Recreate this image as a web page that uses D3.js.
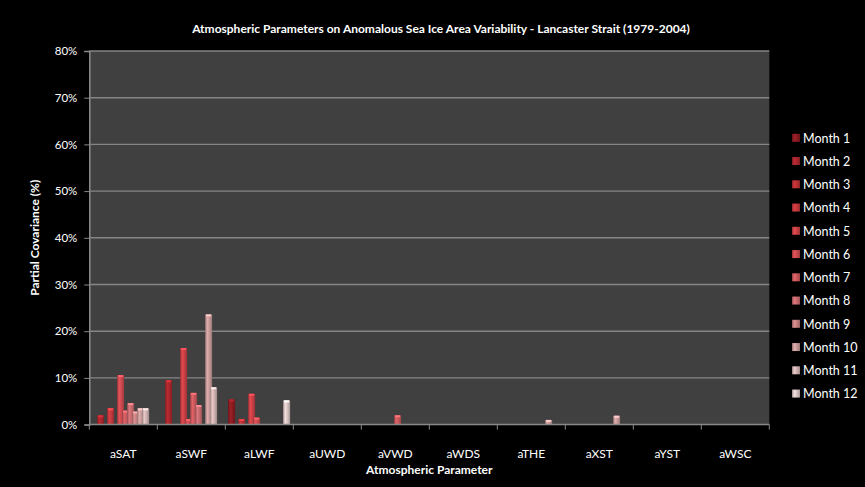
<!DOCTYPE html>
<html><head><meta charset="utf-8">
<script src="https://cdn.jsdelivr.net/npm/d3@7"></script>
<style>body{margin:0;background:#000}svg{display:block}</style>
</head><body>
<script>
const categories = ["aSAT","aSWF","aLWF","aUWD","aVWD","aWDS","aTHE","aXST","aYST","aWSC"];
const months = ["Month 1","Month 2","Month 3","Month 4","Month 5","Month 6","Month 7","Month 8","Month 9","Month 10","Month 11","Month 12"];
const m1  = [0,   0,   5.4, 0, 0,   0, 0,   0,   0, 0];
const m2  = [2.0, 9.5, 0,   0, 0,   0, 0,   0,   0, 0];
const m3  = [0,   0,   1.2, 0, 0,   0, 0,   0,   0, 0];
const m4  = [3.5, 0,   0,   0, 0,   0, 0,   0,   0, 0];
const m5  = [0,   16.4,6.6, 0, 0,   0, 0,   0,   0, 0];
const m6  = [10.6,1.2, 1.5, 0, 0,   0, 0,   0,   0, 0];
const m7  = [3.0, 6.8, 0,   0, 2.0, 0, 0,   0,   0, 0];
const m8  = [4.6, 4.2, 0,   0, 0,   0, 0,   0,   0, 0];
const m9  = [2.8, 0,   0,   0, 0,   0, 0,   0,   0, 0];
const m10 = [3.5, 23.6,0,   0, 0,   0, 1.0, 1.9, 0, 0];
const m11 = [3.5, 8.0, 0,   0, 0,   0, 0,   0,   0, 0];
const m12 = [0,   0,   5.2, 0, 0,   0, 0,   0,   0, 0];
const series = [m1,m2,m3,m4,m5,m6,m7,m8,m9,m10,m11,m12];
const yTicks = [0,10,20,30,40,50,60,70,80];
const colors = ["#8c1c22","#a8262c","#b93035","#c2383d","#c94045","#cc4a4f","#c9585d","#c66a6e","#c4807f","#c79a99","#cfb2b1","#d8c6c5"];

const W = 865, H = 487;
const L = 89.3, R = 769.3, T = 51, B = 424.6;
const font = "Lato, 'Open Sans', sans-serif";

const svg = d3.select("body").append("svg").attr("width", W).attr("height", H).style("background", "#000");
const defs = svg.append("defs");
colors.forEach((c, i) => {
  const g = defs.append("linearGradient").attr("id", "g" + i).attr("x1", "0").attr("x2", "1").attr("y1", "0").attr("y2", "0");
  const base = d3.color(c);
  g.append("stop").attr("offset", "0%").attr("stop-color", base.darker(0.9));
  g.append("stop").attr("offset", "30%").attr("stop-color", base.brighter(0.35));
  g.append("stop").attr("offset", "60%").attr("stop-color", base);
  g.append("stop").attr("offset", "100%").attr("stop-color", base.darker(0.7));
});

const x = d3.scaleBand().domain(categories).range([L, R]).padding(0);
const xi = d3.scaleBand().domain(d3.range(12)).range([3.8, 63.8]).padding(0);
const y = d3.scaleLinear().domain([0, 80]).range([B, T]);

svg.append("rect").attr("x", L).attr("y", T).attr("width", R - L).attr("height", B - T).attr("fill", "#404040");

svg.append("g").selectAll("line").data(yTicks.filter(d => d > 0)).join("line")
  .attr("x1", L).attr("x2", R).attr("y1", d => y(d)).attr("y2", d => y(d))
  .attr("stroke", "#858585").attr("stroke-width", 1.4);

const bw = 7;
series.forEach((vals, i) => {
  const g = svg.append("g");
  const data = vals.map((v, j) => ({v, c: categories[j]})).filter(d => d.v > 0);
  g.selectAll("rect.b").data(data).join("rect").attr("class", "b")
    .attr("x", d => x(d.c) + xi(i) + xi.bandwidth() / 2 - bw / 2)
    .attr("y", d => y(d.v)).attr("width", bw).attr("height", d => B - y(d.v))
    .attr("fill", "url(#g" + i + ")");
  g.selectAll("rect.t").data(data).join("rect").attr("class", "t")
    .attr("x", d => x(d.c) + xi(i) + xi.bandwidth() / 2 - bw / 2 + 1)
    .attr("y", d => y(d.v)).attr("width", bw - 2).attr("height", 2)
    .attr("fill", d3.color(colors[i]).brighter(0.8));
});

// axes
const xAxis = svg.append("g").attr("transform", `translate(0,${B})`)
  .call(d3.axisBottom(x).tickSize(0).tickPadding(0));
xAxis.select(".domain").remove();
xAxis.selectAll("text").attr("y", 25).attr("fill", "#ffffff").style("font-family", font).style("font-size", "12px");
svg.append("g").selectAll("line").data(d3.range(categories.length + 1)).join("line")
  .attr("x1", d => L + d * x.step()).attr("x2", d => L + d * x.step())
  .attr("y1", B).attr("y2", B + 5).attr("stroke", "#8a8a8a").attr("stroke-width", 1);
svg.append("line").attr("x1", L).attr("x2", R).attr("y1", B).attr("y2", B).attr("stroke", "#8a8a8a").attr("stroke-width", 1.5);

const yAxis = svg.append("g").attr("transform", `translate(${L},0)`)
  .call(d3.axisLeft(y).tickValues(yTicks).tickSize(5).tickPadding(7).tickFormat(d => d + "%"));
yAxis.select(".domain").attr("stroke", "#8a8a8a").attr("stroke-width", 1.5);
yAxis.selectAll(".tick line").attr("stroke", "#8a8a8a");
yAxis.selectAll("text").attr("fill", "#ffffff").style("font-family", font).style("font-size", "11.5px");

svg.append("text").attr("x", 441).attr("y", 33).attr("text-anchor", "middle")
  .attr("fill", "#fff").style("font-family", font).style("font-size", "12px").style("font-weight", "bold")
  .text("Atmospheric Parameters on Anomalous Sea Ice Area Variability - Lancaster Strait (1979-2004)");
svg.append("text").attr("x", (L + R) / 2).attr("y", 474).attr("text-anchor", "middle")
  .attr("fill", "#fff").style("font-family", font).style("font-size", "12px").style("font-weight", "bold")
  .text("Atmospheric Parameter");
svg.append("text").attr("transform", `translate(39,${(T + B) / 2}) rotate(-90)`).attr("text-anchor", "middle")
  .attr("fill", "#fff").style("font-family", font).style("font-size", "12px").style("font-weight", "bold")
  .text("Partial Covariance (%)");

// legend
const leg = svg.append("g");
months.forEach((m, i) => {
  const cy = 138.3 + 23.25 * i;
  leg.append("rect").attr("x", 792).attr("y", cy - 4.5).attr("width", 8).attr("height", 8).attr("fill", "url(#g" + i + ")");
  leg.append("text").attr("x", 803).attr("y", cy + 4.3).attr("fill", "#fff")
    .style("font-family", font).style("font-size", "12.5px").text(m);
});
</script>
</body></html>
